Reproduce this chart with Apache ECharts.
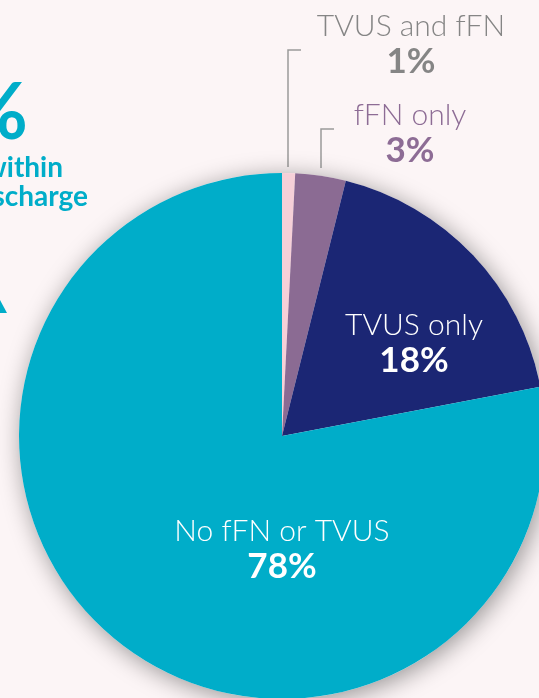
<!DOCTYPE html>
<html>
<head>
<meta charset="utf-8">
<script src="https://cdn.jsdelivr.net/npm/echarts@6/dist/echarts.min.js"></script>
<style>
html,body{margin:0;padding:0;background:#fcf5f6;}
#c{width:539px;height:698px;}
</style>
</head>
<body>
<div id="c"></div>
<script>
// ---- data ----
var categories = ['TVUS and fFN', 'fFN only', 'TVUS only', 'No fFN or TVUS'];
var values = [0.8, 3.1, 18.1, 78.0];
// ---- style ----
var sliceColors = ['#f6d0d8', '#8b6b93', '#1b2674', '#00adc9'];
var labelColors = ['#858585', '#8d6c95', '#ffffff', '#ffffff'];
var labelPos = [[411, 44], [410, 133], [414, 343], [282, 549]];
var leaderLines = [
  [[288, 167], [288, 50], [301, 50]],
  [[321, 168], [321, 129], [334, 129]],
  null, null
];
var FONT = 'Lato, "Open Sans", sans-serif';

var chart = echarts.init(document.getElementById('c'), null, {renderer: 'canvas'});
var total = values.reduce(function (a, b) { return a + b; }, 0);

var pieData = categories.map(function (name, i) {
  return {
    name: name,
    value: values[i],
    itemStyle: {color: sliceColors[i]},
    label: {show: true, position: leaderLines[i] ? 'outside' : 'inside', color: labelColors[i]},
    labelLine: {show: !!leaderLines[i], lineStyle: {color: '#9a9a9a', width: 1.5}}
  };
});

chart.setOption({
  backgroundColor: '#fcf5f6',
  animation: false,
  graphic: [
    {type: 'text', x: 28, y: 114, style: {text: '%', fill: '#00adc9', font: 'bold 78px ' + FONT, textAlign: 'right', textVerticalAlign: 'middle'}},
    {type: 'text', x: 63, y: 168, style: {text: 'within', fill: '#00adc9', font: 'bold 28px ' + FONT, textAlign: 'right', textVerticalAlign: 'middle'}},
    {type: 'text', x: 88, y: 197, style: {text: 'discharge', fill: '#00adc9', font: 'bold 28px ' + FONT, textAlign: 'right', textVerticalAlign: 'middle'}},
    {type: 'polygon', shape: {points: [[0, 300], [7, 313], [0, 313]]}, style: {fill: '#00adc9'}}
  ],
  series: [
    {
      type: 'pie',
      silent: true,
      center: [282, 436],
      radius: 263,
      label: {show: false},
      labelLine: {show: false},
      itemStyle: {color: '#fcf5f6', shadowBlur: 24, shadowColor: 'rgba(0,0,0,0.4)', shadowOffsetX: 3, shadowOffsetY: 4},
      data: [{name: 'all', value: total}]
    },
    {
      type: 'pie',
      center: [282, 436],
      radius: 263,
      startAngle: 90,
      clockwise: true,
      avoidLabelOverlap: false,
      label: {
        formatter: function (p) { return '{n|' + p.name + '}\n{p|' + Math.round(p.value) + '%}'; },
        rich: {
          n: {fontFamily: FONT, fontSize: 30, fontWeight: 300, lineHeight: 36, align: 'center'},
          p: {fontFamily: FONT, fontSize: 35, fontWeight: 'bold', lineHeight: 36, align: 'center'}
        }
      },
      labelLayout: function (params) {
        var i = params.dataIndex;
        var r = {x: labelPos[i][0], y: labelPos[i][1], align: 'center', verticalAlign: 'middle'};
        if (leaderLines[i]) r.labelLinePoints = leaderLines[i];
        return r;
      },
      emphasis: {disabled: true},
      data: pieData
    }
  ]
});
</script>
</body>
</html>
